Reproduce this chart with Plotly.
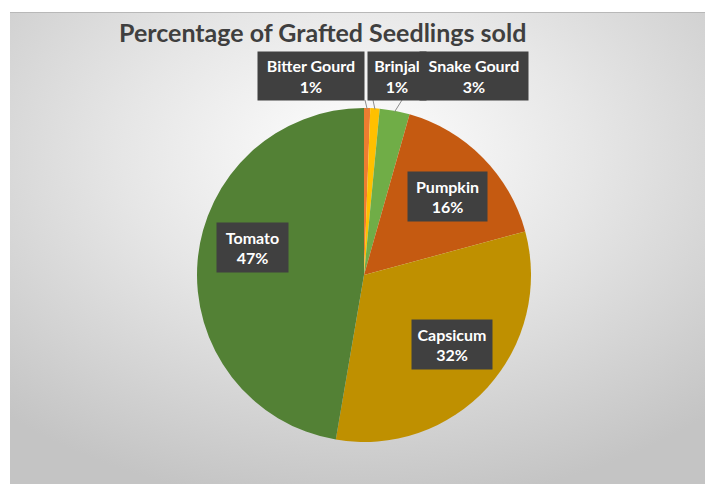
import base64
import math
import plotly.graph_objects as go

# ---- data ----
crops = ["Bitter Gourd", "Brinjal", "Snake Gourd", "Pumpkin", "Capsicum", "Tomato"]
shares = [0.6, 0.9, 2.9, 16.4, 31.9, 47.3]
colors = ["#ED7D31", "#FFC000", "#70AD47", "#C55A11", "#BF9000", "#538135"]
title_text = "Percentage of Grafted Seedlings sold"

# ---- layout constants (pixels) ----
W, H = 705, 484
CX, CY, R = 364, 275, 167
# label box centers and sizes (px)
box_pos = {
    "Bitter Gourd": (311, 76, 106, 48),
    "Brinjal": (397, 76, 58, 48),
    "Snake Gourd": (474, 76, 108, 48),
    "Pumpkin": (447, 197, 79, 49),
    "Capsicum": (452, 344, 80, 49),
    "Tomato": (252, 247, 71, 49),
}
# leader line anchor on box (px) for small slices
leader_top = {"Bitter Gourd": (365, 100), "Brinjal": (373, 100), "Snake Gourd": (402, 100)}


def px2paper(x, y):
    return x / W, 1 - y / H


fig = go.Figure()
fig.add_trace(go.Pie(
    labels=crops, values=shares, sort=False, direction="clockwise", rotation=0,
    marker=dict(colors=colors, line=dict(width=0)),
    textinfo="none", hoverinfo="label+percent", showlegend=False,
    domain=dict(x=[(CX - R) / W, (CX + R) / W], y=[(H - CY - R) / H, (H - CY + R) / H]),
))

total = sum(shares)
annotations = []
shapes = []
cum = 0.0
for name, v in zip(crops, shares):
    mid = (cum + v / 2) / total * 2 * math.pi
    cum += v
    pct = round(v / total * 100)
    bx, by, bw, bh = box_pos[name]
    ax_, ay_ = px2paper(bx, by)
    pad = 2
    annotations.append(dict(
        x=ax_, y=ay_, xref="paper", yref="paper", xanchor="center", yanchor="middle",
        text=f"<b>{name}</b><br><b>{pct}%</b>", showarrow=False,
        font=dict(family="Lato, Open Sans, sans-serif", size=16, color="white"),
        bgcolor="#404040", borderpad=pad, width=bw - 2 * pad, height=bh - 2 * pad,
        align="center",
    ))
    if name in leader_top:
        sx = CX + (R - 1) * math.sin(mid)
        sy = CY - (R - 1) * math.cos(mid)
        tx, ty = leader_top[name]
        x0, y0 = px2paper(tx, ty)
        x1, y1 = px2paper(sx, sy)
        shapes.append(dict(type="line", xref="paper", yref="paper", x0=x0, y0=y0, x1=x1, y1=y1,
                           line=dict(color="#8c8c8c", width=1)))

annotations.append(dict(
    x=322 / W, y=1 - 32 / H, xref="paper", yref="paper", xanchor="center", yanchor="middle",
    text=f"<b>{title_text}</b>", showarrow=False,
    font=dict(family="Lato, Open Sans, sans-serif", size=25, color="#3f3f3f"),
))

svg = f"""<svg xmlns='http://www.w3.org/2000/svg' width='695' height='472' viewBox='0 0 695 472'>
<defs><radialGradient id='g' cx='50%' cy='30%' r='75%'>
<stop offset='0' stop-color='#ffffff'/><stop offset='0.45' stop-color='#e6e6e6'/><stop offset='1' stop-color='#c4c4c4'/>
</radialGradient></defs>
<rect width='695' height='472' fill='url(#g)'/>
<line x1='0' y1='0.5' x2='695' y2='0.5' stroke='#b8b8b8' stroke-width='1'/>
</svg>"""
src = "data:image/svg+xml;base64," + base64.b64encode(svg.encode()).decode()

fig.update_layout(
    width=W, height=H, margin=dict(l=0, r=0, t=0, b=0),
    paper_bgcolor="white",
    annotations=annotations, shapes=shapes,
    images=[dict(source=src, xref="paper", yref="paper", x=10 / W, y=1 - 12 / H,
                 sizex=695 / W, sizey=472 / H, xanchor="left", yanchor="top",
                 sizing="stretch", layer="below")],
)
fig.write_html("out.html")
